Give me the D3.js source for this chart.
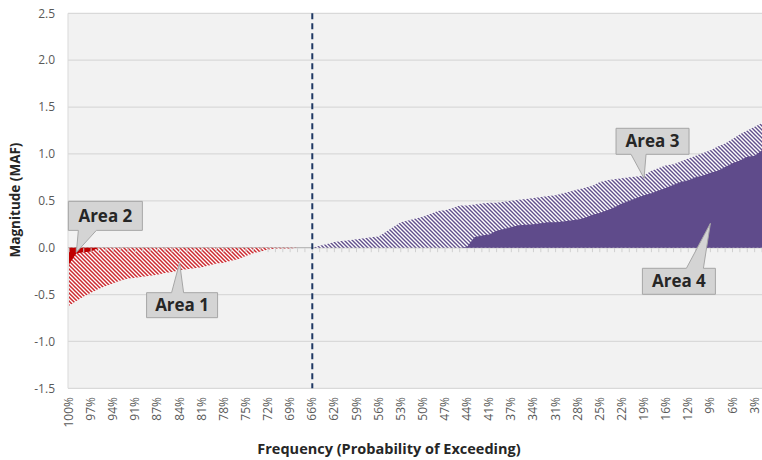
<!DOCTYPE html>
<html>
<head>
<meta charset="utf-8">
<script src="https://cdn.jsdelivr.net/npm/d3@7"></script>
<style>
  body { margin: 0; background: #fff; }
  svg { display: block; font-family: "Open Sans", Lato, sans-serif; }
</style>
</head>
<body>
<svg id="chart" width="762" height="460"></svg>
<script>
// ---------------- data ----------------
const categories = ["100%","99%","98%","97%","96%","95%","94%","93%","92%","91%","90%","89%","87%","86%","85%","84%","83%","82%","81%","80%","79%","78%","77%","76%","75%","74%","73%","72%","71%","70%","69%","68%","67%","66%","65%","64%","62%","61%","60%","59%","58%","57%","56%","55%","54%","53%","52%","51%","50%","49%","48%","47%","46%","45%","44%","43%","42%","41%","40%","39%","37%","36%","35%","34%","33%","32%","31%","30%","29%","28%","27%","26%","25%","24%","23%","22%","21%","20%","19%","18%","17%","16%","15%","14%","12%","11%","10%","9%","8%","7%","6%","5%","4%","3%","2%"];

const tickLabels = ["100%","97%","94%","91%","87%","84%","81%","78%","75%","72%","69%","66%","62%","59%","56%","53%","50%","47%","44%","41%","37%","34%","31%","28%","25%","22%","19%","16%","12%","9%","6%","3%"];

const yTicks = [-1.5, -1.0, -0.5, 0.0, 0.5, 1.0, 1.5, 2.0, 2.5];

// Area 1 (hatched red)
const area1 = [-0.62,-0.57,-0.52,-0.48,-0.44,-0.41,-0.38,-0.35,-0.33,-0.32,
  -0.31,-0.30,-0.29,-0.27,-0.26,-0.24,-0.23,-0.22,-0.21,-0.19,
  -0.17,-0.16,-0.14,-0.12,-0.09,-0.06,-0.04,-0.02,-0.01,-0.01,
  -0.01,0,0,0];
// Area 2 (solid red)
const area2 = [-0.18,-0.06,-0.05,-0.04,0];
// Area 3 (hatched purple), starting at 66%
const area3Start = "66%";
const area3 = [0,0.02,0.04,0.06,0.07,0.08,0.09,0.10,0.11,0.12,
  0.17,0.22,0.27,0.29,0.31,0.33,0.36,0.39,0.40,0.42,
  0.45,0.45,0.46,0.47,0.48,0.48,0.49,0.50,0.51,0.52,
  0.53,0.54,0.55,0.56,0.58,0.60,0.62,0.64,0.66,0.70,
  0.72,0.73,0.74,0.75,0.76,0.77,0.82,0.85,0.88,0.89,
  0.92,0.95,0.98,1.01,1.04,1.08,1.11,1.16,1.21,1.25,
  1.29,1.33];
// Area 4 (solid purple), starting at 45%
const area4Start = "45%";
const area4 = [0,0.01,0.11,0.13,0.14,0.18,0.20,0.22,0.24,0.245,
  0.25,0.26,0.27,0.27,0.28,0.29,0.30,0.32,0.35,0.37,
  0.40,0.43,0.47,0.50,0.53,0.56,0.58,0.61,0.64,0.67,
  0.70,0.72,0.75,0.77,0.80,0.82,0.86,0.90,0.93,0.97,
  0.98,1.04];

const markerCategory = "66%";

const calloutLabels = ["Area 1", "Area 2", "Area 3", "Area 4"];
const calloutCats   = ["84%", "99%", "19%", "9%"];
const calloutValues = [-0.16, -0.05, 0.74, 0.26];

// ---------------- chart ----------------
const svg = d3.select("#chart");
const W = 762, H = 460;
const plot = { left: 68, right: 762, top: 13.3, bottom: 388.3 };

const x = d3.scalePoint().domain(categories).range([69, 762]);
const y = d3.scaleLinear().domain([-1.5, 2.5]).range([plot.bottom, plot.top]);

const defs = svg.append("defs");
function hatch(id, color, sw) {
  const p = defs.append("pattern").attr("id", id)
    .attr("patternUnits", "userSpaceOnUse").attr("width", 4).attr("height", 4);
  p.append("rect").attr("width", 4).attr("height", 4).attr("fill", "#ffffff");
  p.append("path").attr("d", "M-1,-1 L5,5 M-1,3 L1,5 M3,-1 L5,1")
    .attr("stroke", color).attr("stroke-width", sw).attr("fill", "none");
}
hatch("hatchRed", "#cc2a30", 1.5);
hatch("hatchPurple", "#62508c", 1.4);
defs.append("clipPath").attr("id", "plotClip").append("rect")
  .attr("x", plot.left).attr("y", plot.top)
  .attr("width", plot.right - plot.left).attr("height", plot.bottom - plot.top);

// plot background
svg.append("rect").attr("x", plot.left).attr("y", plot.top)
  .attr("width", W - plot.left).attr("height", plot.bottom - plot.top)
  .attr("fill", "#f2f2f2");

// gridlines
svg.append("g").selectAll("line").data(yTicks).join("line")
  .attr("x1", plot.left).attr("x2", W)
  .attr("y1", d => y(d)).attr("y2", d => y(d))
  .attr("stroke", "#d9d9d9").attr("stroke-width", 1.3);

// left axis line
svg.append("line").attr("x1", plot.left).attr("x2", plot.left)
  .attr("y1", plot.top).attr("y2", plot.bottom)
  .attr("stroke", "#d9d9d9").attr("stroke-width", 1);

// y tick labels
svg.append("g").selectAll("text").data(yTicks).join("text")
  .attr("x", 55).attr("y", d => y(d)).attr("dy", "0.35em")
  .attr("text-anchor", "end").attr("font-size", 12).attr("fill", "#595959")
  .text(d => d3.format(".1f")(d).replace("−", "-"));

// zero axis line
svg.append("line").attr("x1", plot.left).attr("x2", W)
  .attr("y1", y(0)).attr("y2", y(0))
  .attr("stroke", "#b5b5b5").attr("stroke-width", 1);

const g = svg.append("g").attr("clip-path", "url(#plotClip)");

function series(values, startCat) {
  const s = categories.indexOf(startCat);
  return values.map((v, i) => ({ c: categories[s + i], v }));
}
const areaGen = d3.area().x(d => x(d.c)).y0(y(0)).y1(d => y(d.v));

g.append("path").datum(series(area1, categories[0])).attr("d", areaGen).attr("fill", "url(#hatchRed)");
g.append("path").datum(series(area3, area3Start)).attr("d", areaGen).attr("fill", "url(#hatchPurple)");
g.append("path").datum(series(area2, categories[0])).attr("d", areaGen).attr("fill", "#c00000");
g.append("path").datum(series(area4, area4Start)).attr("d", areaGen).attr("fill", "#5f4b8b");

// tick marks on category axis
g.append("g").selectAll("line").data(categories).join("line")
  .attr("x1", d => x(d)).attr("x2", d => x(d))
  .attr("y1", y(0) + 0.5).attr("y2", y(0) + 4.5)
  .attr("stroke", "#d0d0d0").attr("stroke-width", 1);

// dashed marker line
svg.append("line")
  .attr("x1", x(markerCategory)).attr("x2", x(markerCategory))
  .attr("y1", plot.top).attr("y2", plot.bottom)
  .attr("stroke", "#1f3864").attr("stroke-width", 2)
  .attr("stroke-dasharray", "6,4");

// x tick labels
svg.append("g").selectAll("text").data(tickLabels).join("text")
  .attr("transform", d => `translate(${x(d) + 4},${397}) rotate(-90)`)
  .attr("text-anchor", "end").attr("font-size", 12).attr("fill", "#595959")
  .text(d => d);

// axis titles
svg.append("text").attr("x", 389).attr("y", 454)
  .attr("text-anchor", "middle").attr("font-size", 14.5).attr("font-weight", "bold")
  .attr("fill", "#262626").text("Frequency (Probability of Exceeding)");
svg.append("text").attr("transform", "translate(20,200) rotate(-90)")
  .attr("text-anchor", "middle").attr("font-size", 13.5).attr("font-weight", "bold")
  .attr("fill", "#262626").text("Magnitude (MAF)");

// callouts: box offsets relative to tip [dx0, dx1, dy0, dy1], tail base [b0, b1]
const calloutLayout = {
  "Area 1": { box: [-33, 38, 30, 55], base: [-8, 4], side: "top" },
  "Area 2": { box: [-8, 66, -51, -22], base: [2, 20], side: "bottom" },
  "Area 3": { box: [-28, 45, -50, -24], base: [-13, 2], side: "bottom" },
  "Area 4": { box: [-68, 5, 45, 71], base: [-24, -7], side: "top" }
};
calloutLabels.forEach((lab, i) => {
  const tx = x(calloutCats[i]), ty = y(calloutValues[i]);
  const L = calloutLayout[lab];
  const x0 = tx + L.box[0], x1 = tx + L.box[1], y0 = ty + L.box[2], y1 = ty + L.box[3];
  const b0 = tx + L.base[0], b1 = tx + L.base[1];
  let d;
  if (L.side === "bottom") {
    d = `M${x0},${y0}H${x1}V${y1}H${b1}L${tx},${ty}L${b0},${y1}H${x0}Z`;
  } else {
    d = `M${x0},${y0}H${b0}L${tx},${ty}L${b1},${y0}H${x1}V${y1}H${x0}Z`;
  }
  svg.append("path").attr("d", d).attr("fill", "#d4d4d4")
    .attr("stroke", "#a6a6a6").attr("stroke-width", 1);
  svg.append("text").attr("x", (x0 + x1) / 2).attr("y", (y0 + y1) / 2).attr("dy", "0.36em")
    .attr("text-anchor", "middle").attr("font-size", 17).attr("font-weight", "bold")
    .attr("fill", "#262626").text(lab);
});
</script>
</body>
</html>
